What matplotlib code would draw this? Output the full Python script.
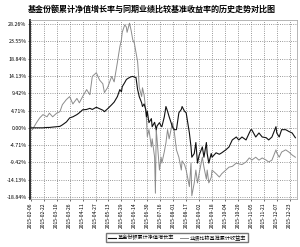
import datetime as dt
import matplotlib
matplotlib.use("Agg")
import matplotlib.pyplot as plt

plt.rcParams['font.family'] = ['Noto Sans CJK SC', 'DejaVu Sans']

# days since inception (2015-02-06)
days = [0, 2, 7, 11, 15, 20, 23, 27, 32, 36, 39, 44, 48, 52, 57, 60, 64, 69, 73, 76,
        81, 85, 89, 91, 95, 100, 103, 107, 110, 112, 113, 116, 118, 119, 122, 124, 126, 128, 130, 132,
        133, 134, 137, 138, 140, 142, 143, 144, 146, 149, 150, 153, 154, 155, 156, 159, 161, 162, 165, 167,
        169, 171, 175, 177, 180, 183, 186, 187, 190, 192, 196, 198, 199, 202, 204, 206, 208, 212, 214, 217,
        218, 220, 223, 224, 229, 233, 236, 241, 245, 249, 254, 257, 261, 266, 270, 272, 273, 278, 282, 286,
        291, 294, 298, 303, 304, 307, 310, 315, 319, 323, 327]

fund = [0, 0, 0, 0, 0, 0.1, 0.1, 0.2, 0.3, 0.4, 0.8, 1.6, 2.7, 3.0, 3.6, 4.1, 4.9, 5.0, 5.3, 5.0,
        5.6, 5.2, 4.8, 4.4, 5.2, 6.3, 7.0, 8.5, 10.4, 9.8, 11.2, 12.3, 13.1, 13.3, 13.7, 13.9, 14.0, 13.8, 13.7, 10.4,
        9.5, 8.5, 6.8, 5.8, 6.5, 5.0, 3.0, 4.5, 1.4, 2.5, 0.3, 1.5, 0.5, -0.5, 0.5, 1.4, 0.5, 0.3, 3.0, 5.8,
        4.5, 3.0, 0.3, -0.5, -0.5, 4.1, 5.0, 5.8, 4.5, 4.1, -1.4, -5.2, -8.0, -7.0, -4.0, -9.6, -7.5, -5.2, -8.0, -4.0,
        -7.0, -9.6, -7.0, -8.0, -6.8, -7.2, -6.8, -6.0, -5.2, -3.3, -2.5, -3.3, -2.5, -3.3, -1.4, -0.5, -0.5, -2.5, -1.4, -2.5,
        -2.7, -3.3, -2.5, 0.3, -1.4, -2.5, -0.5, -0.5, -1.0, -1.4, -2.7]

bench = [0, -0.5, 1.4, 2.7, 3.6, 3.0, 4.0, 3.0, 4.0, 4.4, 6.3, 7.7, 8.5, 6.5, 8.0, 6.8, 8.5, 10.4, 9.0, 14.0,
         15.0, 13.0, 12.0, 9.6, 11.0, 14.0, 12.5, 17.8, 22.0, 24.0, 26.0, 28.0, 27.5, 26.0, 28.5, 26.5, 24.0, 23.0, 20.5, 18.0,
         15.0, 11.0, 8.5, 10.9, 9.0, 5.0, 2.2, -2.4, -0.5, -5.2, -3.0, -8.0, -17.8, -0.5, -3.0, -11.5, -8.0, -9.6, -6.5, -4.1,
         -0.5, -3.0, 1.4, -0.5, -6.0, -8.0, -11.5, -9.0, -10.0, -11.5, -16.0, -9.6, -18.5, -15.0, -11.5, -15.0, -12.5, -8.0, -10.7, -14.0,
         -11.5, -15.0, -13.5, -11.5, -12.5, -13.4, -12.5, -11.5, -10.7, -10.5, -9.6, -9.8, -10.0, -9.3, -8.2, -8.5, -8.8, -8.0, -8.8, -8.2,
         -8.8, -9.3, -8.8, -6.0, -6.8, -8.0, -6.6, -6.0, -6.6, -7.4, -8.0]

yticks = [28.26, 23.55, 18.84, 14.13, 9.42, 4.71, 0.00, -4.71, -9.42, -14.13, -18.84]
xtick_labels = ['2015-02-06', '2015-02-22', '2015-03-10', '2015-03-26', '2015-04-11', '2015-04-27',
                '2015-05-13', '2015-05-29', '2015-06-14', '2015-06-30', '2015-07-16', '2015-08-01',
                '2015-08-17', '2015-09-02', '2015-09-18', '2015-10-04', '2015-10-20', '2015-11-05',
                '2015-11-21', '2015-12-07', '2015-12-23']

start = dt.datetime(2015, 2, 6)
dates = [start + dt.timedelta(days=d) for d in days]
xticks = [dt.datetime.strptime(s, '%Y-%m-%d') for s in xtick_labels]

fig = plt.figure(figsize=(3.0, 2.47), dpi=100)
ax = fig.add_axes([0.1, 0.194, 0.89, 0.725])

ax.plot(dates, bench, color='#8c8c8c', lw=0.7, label='业绩比较基准累计收益率')
ax.plot(dates, fund, color='#111111', lw=0.8, label='基金份额累计净值增长率')

ax.set_ylim(-19.4, 29.35)
ax.set_xlim(start - dt.timedelta(days=1), start + dt.timedelta(days=329))
ax.set_yticks(yticks)
ax.set_yticklabels(['%.2f%%' % v for v in yticks], fontsize=3.8)
ax.set_xticks(xticks)
ax.set_xticklabels(xtick_labels, rotation=90, fontsize=3.6)
ax.tick_params(length=1.5, width=0.4, pad=1)
ax.grid(True, ls=':', lw=0.6, color='#777777')

for s in ['top', 'right', 'bottom']:
    ax.spines[s].set_color('#999999')
    ax.spines[s].set_linewidth(0.5)
ax.spines['left'].set_linewidth(1.3)
ax.spines['left'].set_color('#222222')

fig.suptitle('基金份额累计净值增长率与同期业绩比较基准收益率的历史走势对比图',
             fontsize=5.8, fontweight='bold', x=0.505, y=0.98)

h, l = ax.get_legend_handles_labels()
fig.legend(h[::-1], l[::-1], loc='center', bbox_to_anchor=(0.59, 0.037), ncol=2,
           fontsize=3.7, frameon=True, fancybox=False, edgecolor='#555555',
           handlelength=1.6, handletextpad=0.4, columnspacing=1.0, borderpad=0.3)

fig.savefig('out.png', dpi=100)
